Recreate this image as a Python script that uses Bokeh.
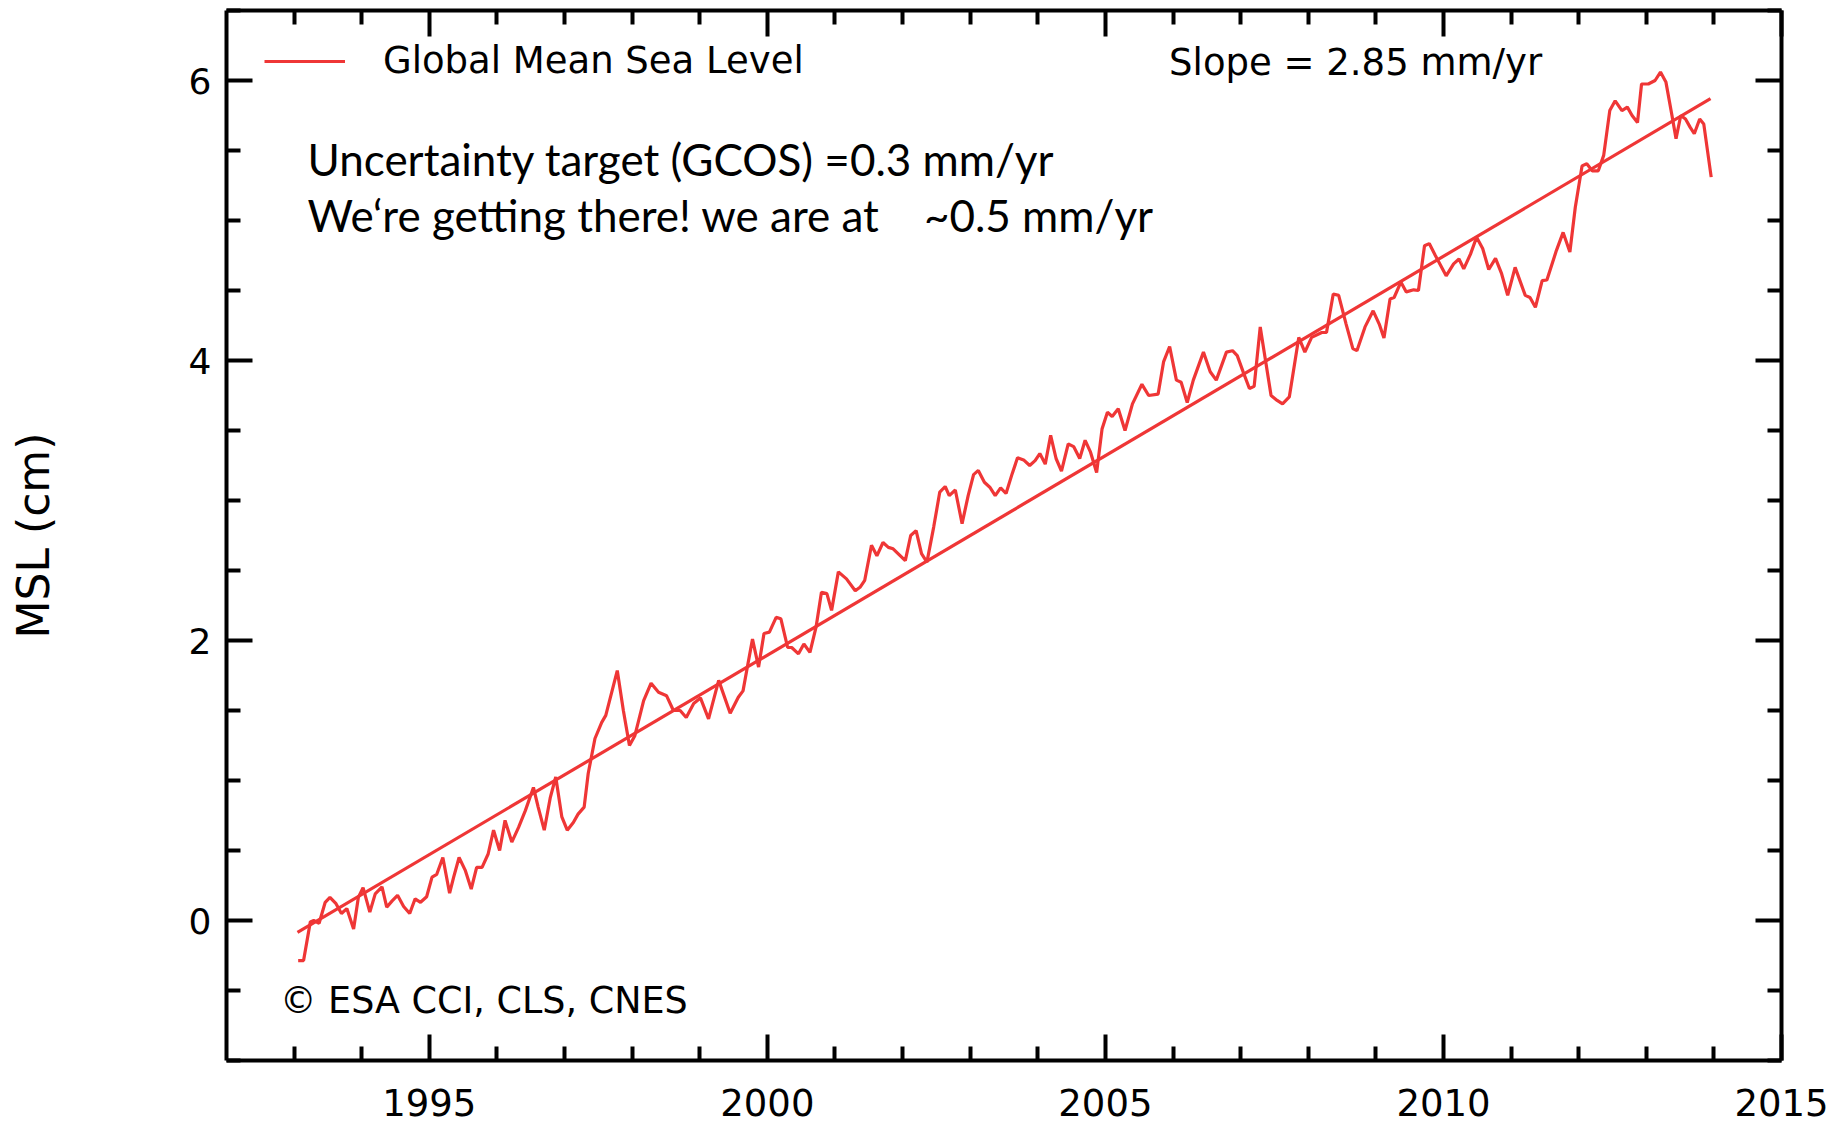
from bokeh.plotting import figure
from bokeh.models import (Range1d, LinearAxis, FixedTicker, Label, ColumnDataSource)
from bokeh.embed import file_html
from bokeh.resources import INLINE

# ---------------- data ----------------
years = [
    1993.06, 1993.14, 1993.24, 1993.29, 1993.37, 1993.46, 1993.53, 1993.62, 1993.70, 1993.78,
    1993.88, 1993.95, 1994.02, 1994.12, 1994.20, 1994.30, 1994.37, 1994.45, 1994.53, 1994.62,
    1994.71, 1994.79, 1994.87, 1994.96, 1995.04, 1995.11, 1995.20, 1995.30, 1995.36, 1995.44,
    1995.53, 1995.62, 1995.70, 1995.78, 1995.87, 1995.95, 1996.04, 1996.12, 1996.22, 1996.32,
    1996.42, 1996.54, 1996.61, 1996.70, 1996.79, 1996.87, 1996.96, 1997.04, 1997.13, 1997.20,
    1997.29, 1997.35, 1997.45, 1997.55, 1997.61, 1997.78, 1997.87, 1997.96, 1998.04, 1998.17,
    1998.28, 1998.39, 1998.51, 1998.61, 1998.71, 1998.80, 1998.91, 1999.01, 1999.13, 1999.28,
    1999.45, 1999.57, 1999.64, 1999.70, 1999.78, 1999.87, 1999.95, 2000.03, 2000.13, 2000.20,
    2000.30, 2000.36, 2000.46, 2000.54, 2000.63, 2000.72, 2000.80, 2000.88, 2000.95, 2001.05,
    2001.17, 2001.30, 2001.37, 2001.44, 2001.54, 2001.62, 2001.71, 2001.79, 2001.86, 2002.04,
    2002.12, 2002.20, 2002.28, 2002.36, 2002.46, 2002.55, 2002.63, 2002.69, 2002.78, 2002.88,
    2002.97, 2003.05, 2003.12, 2003.21, 2003.29, 2003.37, 2003.45, 2003.53, 2003.62, 2003.70,
    2003.79, 2003.88, 2003.96, 2004.03, 2004.11, 2004.19, 2004.27, 2004.35, 2004.45, 2004.53,
    2004.62, 2004.70, 2004.78, 2004.87, 2004.95, 2005.03, 2005.10, 2005.19, 2005.29, 2005.40,
    2005.54, 2005.64, 2005.78, 2005.86, 2005.95, 2006.05, 2006.12, 2006.21, 2006.30, 2006.45,
    2006.55, 2006.64, 2006.79, 2006.88, 2006.95, 2007.04, 2007.13, 2007.20, 2007.29, 2007.36,
    2007.45, 2007.54, 2007.62, 2007.72, 2007.86, 2007.95, 2008.05, 2008.20, 2008.27, 2008.37,
    2008.45, 2008.56, 2008.66, 2008.72, 2008.84, 2008.96, 2009.05, 2009.12, 2009.21, 2009.27,
    2009.37, 2009.45, 2009.56, 2009.63, 2009.72, 2009.79, 2009.88, 2010.04, 2010.15, 2010.23,
    2010.30, 2010.40, 2010.49, 2010.58, 2010.67, 2010.77, 2010.86, 2010.95, 2011.06, 2011.21,
    2011.28, 2011.36, 2011.46, 2011.53, 2011.67, 2011.77, 2011.87, 2011.95, 2012.05, 2012.12,
    2012.20, 2012.29, 2012.37, 2012.46, 2012.54, 2012.64, 2012.72, 2012.79, 2012.87, 2012.93,
    2013.03, 2013.13, 2013.21, 2013.29, 2013.38, 2013.44, 2013.51, 2013.58, 2013.65, 2013.71,
    2013.79, 2013.85, 2013.96,
]
msl_cm = [
    -0.286, -0.286, -0.01, 0.0, -0.02, 0.13, 0.165, 0.12, 0.05, 0.085,
    -0.06, 0.165, 0.235, 0.06, 0.19, 0.24, 0.095, 0.14, 0.18, 0.10,
    0.05, 0.155, 0.13, 0.17, 0.31, 0.33, 0.45, 0.195, 0.31, 0.45,
    0.36, 0.225, 0.38, 0.38, 0.475, 0.645, 0.50, 0.715, 0.56, 0.665,
    0.785, 0.95, 0.81, 0.645, 0.88, 1.025, 0.74, 0.645, 0.70, 0.76,
    0.81, 1.05, 1.30, 1.415, 1.465, 1.785, 1.50, 1.25, 1.32, 1.57,
    1.695, 1.63, 1.605, 1.50, 1.50, 1.45, 1.55, 1.59, 1.44, 1.715,
    1.48, 1.595, 1.64, 1.80, 2.01, 1.81, 2.05, 2.06, 2.165, 2.155,
    1.95, 1.95, 1.905, 1.975, 1.915, 2.095, 2.345, 2.335, 2.215, 2.49,
    2.44, 2.355, 2.38, 2.43, 2.68, 2.605, 2.70, 2.665, 2.655, 2.57,
    2.75, 2.785, 2.62, 2.56, 2.81, 3.06, 3.10, 3.035, 3.075, 2.835,
    3.035, 3.185, 3.215, 3.13, 3.095, 3.035, 3.09, 3.05, 3.19, 3.305,
    3.29, 3.25, 3.285, 3.335, 3.26, 3.465, 3.30, 3.21, 3.405, 3.385,
    3.30, 3.43, 3.345, 3.20, 3.51, 3.63, 3.60, 3.655, 3.50, 3.69,
    3.83, 3.75, 3.76, 3.99, 4.10, 3.86, 3.845, 3.70, 3.86, 4.06,
    3.92, 3.86, 4.06, 4.07, 4.035, 3.915, 3.80, 3.815, 4.24, 4.025,
    3.75, 3.715, 3.69, 3.74, 4.165, 4.06, 4.165, 4.20, 4.20, 4.475,
    4.465, 4.26, 4.085, 4.07, 4.24, 4.355, 4.26, 4.16, 4.44, 4.45,
    4.56, 4.49, 4.505, 4.50, 4.82, 4.835, 4.75, 4.605, 4.69, 4.725,
    4.655, 4.76, 4.88, 4.80, 4.65, 4.73, 4.62, 4.465, 4.665, 4.465,
    4.45, 4.38, 4.57, 4.575, 4.785, 4.915, 4.775, 5.095, 5.39, 5.405,
    5.355, 5.355, 5.465, 5.785, 5.855, 5.785, 5.81, 5.75, 5.70, 5.975,
    5.975, 6.00, 6.06, 5.99, 5.75, 5.585, 5.75, 5.725, 5.665, 5.62,
    5.725, 5.69, 5.31,
]
trend_years = [1993.05, 2013.95]
trend_cm = [-0.085, 5.87]

x_major = [1995, 2000, 2005, 2010, 2015]
x_minor = [y for y in range(1993, 2015) if y % 5 != 0]
y_major = [0, 2, 4, 6]
y_minor = [-1.0, -0.5, 0.5, 1.0, 1.5, 2.5, 3.0, 3.5, 4.5, 5.0, 5.5, 6.5]

legend_text = "Global Mean Sea Level"
slope_text = "Slope = 2.85 mm/yr"
note_line1 = "Uncertainty target (GCOS) =0.3 mm/yr"
note_line2 = "We\u2018re getting there! we are at \u00a0\u00a0\u00a0~0.5 mm/yr"
credit_text = "\u00a9 ESA CCI, CLS, CNES"
y_label = "MSL (cm)"

# ---------------- styling ----------------
RED = "#ef3636"
FONT = "DejaVu Sans"

p = figure(
    frame_width=1555, frame_height=1050,
    x_range=Range1d(1992, 2015), y_range=Range1d(-1, 6.5),
    output_backend="svg", toolbar_location=None,
    min_border_left=226, min_border_right=50, min_border_top=10, min_border_bottom=63,
    background_fill_color="white", border_fill_color="white",
)
p.outline_line_color = None
p.xgrid.visible = False
p.ygrid.visible = False

src = ColumnDataSource(dict(x=years, y=msl_cm))
p.line("x", "y", source=src, line_color=RED, line_width=3.2, legend_label=legend_text)
p.line(trend_years, trend_cm, line_color=RED, line_width=3.2)

xt = FixedTicker(ticks=x_major, minor_ticks=x_minor)
yt = FixedTicker(ticks=y_major, minor_ticks=y_minor)


def style_axis(ax, labels=True, size="36px"):
    ax.axis_line_width = 4
    ax.axis_line_color = "black"
    ax.major_tick_line_width = 4
    ax.minor_tick_line_width = 4
    ax.major_tick_line_color = "black"
    ax.minor_tick_line_color = "black"
    ax.major_tick_in = 26
    ax.major_tick_out = 0
    ax.minor_tick_in = 14
    ax.minor_tick_out = 0
    if labels:
        ax.major_label_text_font = FONT
        ax.major_label_text_font_size = size
        ax.major_label_text_color = "black"
    else:
        ax.major_label_text_font_size = "1px"
        ax.major_label_text_color = None
        ax.major_label_standoff = 0


xa = p.xaxis[0]
xa.ticker = xt
style_axis(xa, size="37px")
xa.major_label_standoff = 28

ya = p.yaxis[0]
ya.ticker = yt
style_axis(ya, size="36px")
ya.major_label_standoff = 15
ya.axis_label = y_label
ya.axis_label_text_font = FONT
ya.axis_label_text_font_size = "44px"
ya.axis_label_text_font_style = "normal"
ya.axis_label_text_color = "black"
ya.axis_label_standoff = 127

top = LinearAxis(ticker=xt)
style_axis(top, labels=False)
p.add_layout(top, "above")

right = LinearAxis(ticker=yt)
style_axis(right, labels=False)
p.add_layout(right, "right")

# legend
lg = p.legend[0]
lg.location = (38, 978)
lg.border_line_color = None
lg.background_fill_alpha = 0
lg.label_text_font = FONT
lg.label_text_font_size = "37px"
lg.label_text_color = "black"
lg.glyph_width = 81
lg.glyph_height = 42
lg.label_height = 42
lg.label_standoff = 38
lg.padding = 0
lg.margin = 0
lg.spacing = 0


def px_x(px):
    return 1992 + (px - 226.5) / 67.6


def px_y(py):
    return (920 - py) / 140.0


p.add_layout(Label(x=px_x(1169), y=px_y(62), text=slope_text, text_font=FONT,
                   text_font_size="37px", text_color="black", text_baseline="alphabetic"))
p.add_layout(Label(x=px_x(307.5), y=px_y(158), text=note_line1, text_font="Lato",
                   text_font_size="44px", text_color="black", text_baseline="alphabetic"))
p.add_layout(Label(x=px_x(307.5), y=px_y(214), text=note_line2, text_font="Lato",
                   text_font_size="44px", text_color="black", text_baseline="alphabetic"))
p.add_layout(Label(x=px_x(280), y=px_y(1000), text=credit_text, text_font=FONT,
                   text_font_size="36.5px", text_color="black", text_baseline="alphabetic"))

open("out.html", "w").write(file_html(p, INLINE))
